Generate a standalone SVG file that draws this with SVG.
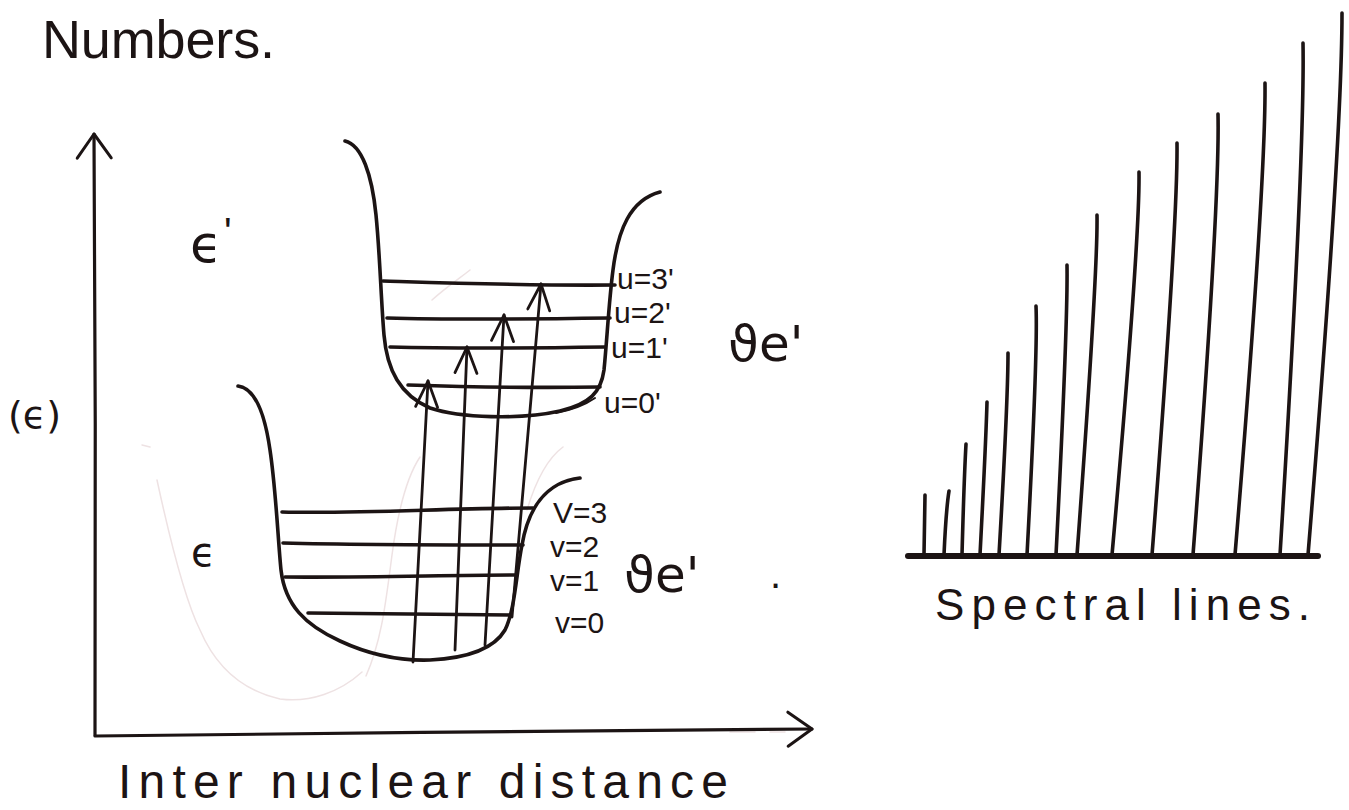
<svg xmlns="http://www.w3.org/2000/svg" width="1349" height="810" viewBox="0 0 1349 810">
<defs>
<marker id="open" markerUnits="userSpaceOnUse" viewBox="-30 -14 34 28" refX="0" refY="0" markerWidth="34" markerHeight="28" orient="auto">
<path d="M-26,-11 L0,0 L-26,11" fill="none" stroke="#1c1414" stroke-width="2.8" stroke-linecap="round" stroke-linejoin="round"/>
</marker>
<marker id="axisHead" markerUnits="userSpaceOnUse" viewBox="-30 -20 34 40" refX="0" refY="0" markerWidth="34" markerHeight="40" orient="auto">
<path d="M-24,-17 L0,0 L-24,17" fill="none" stroke="#1c1414" stroke-width="3" stroke-linecap="round" stroke-linejoin="round"/>
</marker>
</defs>
<style>
.ink{fill:none;stroke:#1c1414;stroke-linecap:round;stroke-linejoin:round}
.curve{stroke-width:3.6}
.level{stroke-width:3.6}
.axis{stroke-width:3.2}
.arrow{stroke-width:2.8}
.spec{stroke-width:3.6}
.ghost{fill:none;stroke:#eee2e3;stroke-width:1.5;stroke-linecap:round}
.t{fill:#1c1414;font-family:"Liberation Sans","DejaVu Sans",sans-serif}
.g{fill:#1c1414;font-family:"DejaVu Sans","Liberation Sans",sans-serif}
</style>
<rect width="1349" height="810" fill="#ffffff"/>

<g id="ghost-marks">
<path class="ghost" d="M142,445 L150,447"/>
<path class="ghost" d="M157,480 C170,540 185,600 200,630 C215,665 240,690 280,699 C310,703 340,692 362,672"/>
<path class="ghost" d="M420,457 C408,475 398,510 392,555 C386,600 382,640 366,676"/>
<path class="ghost" d="M563,447 C548,458 536,480 527,510"/>
<path class="ghost" d="M432,300 C445,288 460,278 470,270"/>
<path class="ghost" d="M730,732 L755,732 M770,732 L785,732" stroke="#c8c8c8"/>
</g>

<g id="axes">
<path class="ink axis" d="M95,735 C95,540 96,330 94,134" marker-end="url(#axisHead)"/>
<path class="ink axis" d="M95,736 C330,733 580,731 812,729" marker-end="url(#axisHead)"/>
</g>

<g id="upper-well">
<path class="ink curve" d="M345,141 C362,145 372,175 376,215 C380,255 381,300 384,335 C387,370 400,395 430,408 C460,418 520,420 560,411 C590,404 601,392 604,370 C607,340 609,300 613,270 C618,230 630,200 660,192"/>
<path class="ink" stroke-width="2" d="M556,413 C572,410 585,405 595,398"/>
<path class="ink level" d="M383,281 C450,283 540,286 615,285"/>
<path class="ink level" d="M387,318 C460,320 540,319 610,318"/>
<path class="ink level" d="M390,347 C470,349 540,348 605,347"/>
<path class="ink level" d="M408,385 C470,387 540,388 600,387"/>
</g>

<g id="lower-well">
<path class="ink curve" d="M238,386 C255,388 265,415 270,450 C276,490 278,540 281,570 C285,605 305,625 340,641 C370,655 400,661 430,660 C470,658 495,647 505,630 C515,610 516,575 522,545 C528,510 545,482 580,478"/>
<path class="ink level" d="M282,512 C360,514 450,508 533,508"/>
<path class="ink level" d="M283,543 C360,545 450,545 523,545"/>
<path class="ink level" d="M285,577 C360,578 450,575 517,575"/>
<path class="ink level" d="M308,613 C380,614 450,615 510,615"/>
</g>

<g id="transitions">
<path class="ink arrow" d="M413,662 L428,381" marker-end="url(#open)"/>
<path class="ink arrow" d="M455,650 L467,347" marker-end="url(#open)"/>
<path class="ink arrow" d="M485,645 L504,315" marker-end="url(#open)"/>
<path class="ink arrow" d="M512,617 L541,284" marker-end="url(#open)"/>
</g>

<g id="spectrum">
<path class="ink" stroke-width="6" d="M908,556 L1318,556"/>
<path class="ink spec" d="M924,555 L925,495"/>
<path class="ink spec" d="M944,555 Q946,510 949,491"/>
<path class="ink spec" d="M962,555 Q964,480 966,444"/>
<path class="ink spec" d="M980,555 Q986,440 987,402"/>
<path class="ink spec" d="M999,555 Q1008,400 1008,353"/>
<path class="ink spec" d="M1027,555 Q1038,350 1036,306"/>
<path class="ink spec" d="M1056,555 Q1068,320 1067,265"/>
<path class="ink spec" d="M1077,555 Q1098,270 1097,215"/>
<path class="ink spec" d="M1112,555 Q1140,240 1139,172"/>
<path class="ink spec" d="M1152,555 Q1178,220 1177,143"/>
<path class="ink spec" d="M1193,555 Q1220,200 1218,114"/>
<path class="ink spec" d="M1235,555 Q1266,180 1265,83"/>
<path class="ink spec" d="M1280,555 Q1305,150 1303,43"/>
<path class="ink spec" d="M1308,555 Q1342,140 1342,13"/>
</g>

<g id="labels">
<text class="t" x="42" y="58" font-size="54" textLength="233">Numbers.</text>
<text class="g" x="190" y="262" font-size="52">ϵ</text>
<text class="t" x="224" y="246" font-size="40">'</text>
<text class="g" x="8" y="428" font-size="38">(ϵ)</text>
<text class="g" x="191" y="566" font-size="40">ϵ</text>
<text class="t" x="617" y="289" font-size="30">u=3'</text>
<text class="t" x="614" y="323" font-size="30">u=2'</text>
<text class="t" x="611" y="358" font-size="30">u=1'</text>
<text class="t" x="604" y="413" font-size="30">u=0'</text>
<text class="g" x="728" y="361" font-size="50">ϑe'</text>
<text class="t" x="553" y="523" font-size="30">V=3</text>
<text class="t" x="550" y="557" font-size="30">v=2</text>
<text class="t" x="550" y="591" font-size="30">v=1</text>
<text class="t" x="555" y="633" font-size="30">v=0</text>
<text class="g" x="624" y="592" font-size="50">ϑe'</text>
<text class="t" x="770" y="588" font-size="40">.</text>
<text class="t" x="935" y="620" font-size="44" textLength="375">Spectral lines.</text>
<text class="t" x="118" y="798" font-size="48" textLength="610">Inter nuclear distance</text>
</g>
</svg>
